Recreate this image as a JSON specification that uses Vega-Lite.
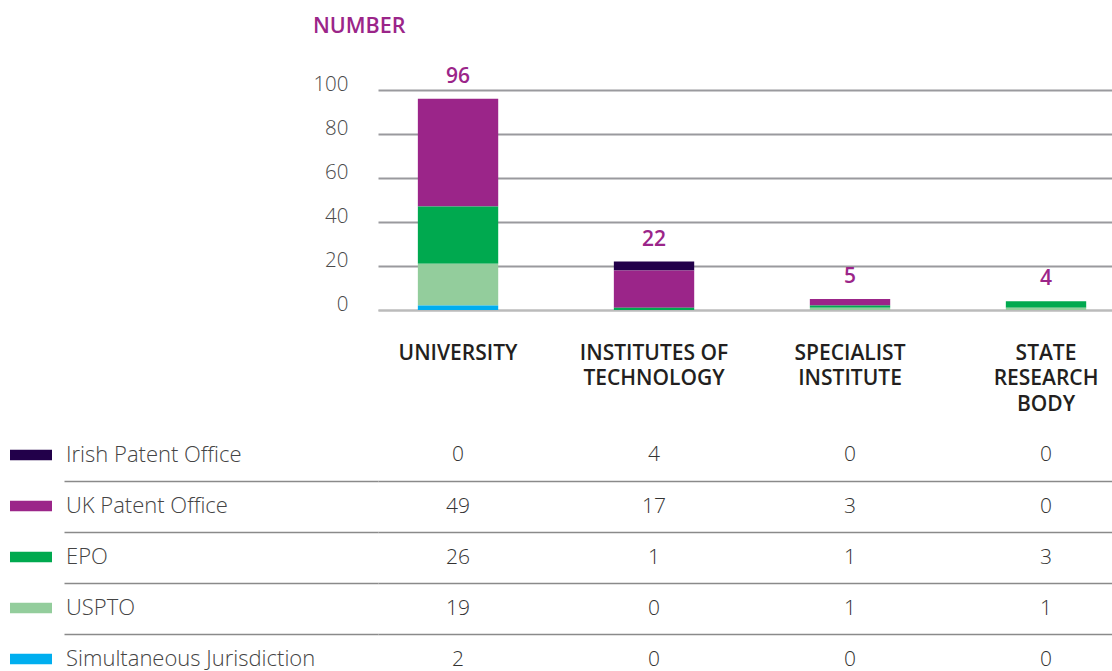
{
  "$schema": "https://vega.github.io/schema/vega-lite/v6.json",
  "padding": {"left": 0, "top": 16, "right": 0, "bottom": 0},
  "background": "white",
  "config": {"view": {"stroke": null}, "font": "Open Sans"},
  "datasets": {
    "patents": [
      {"inst": "UNIVERSITY", "office": "Irish Patent Office", "count": 0},
      {"inst": "UNIVERSITY", "office": "UK Patent Office", "count": 49},
      {"inst": "UNIVERSITY", "office": "EPO", "count": 26},
      {"inst": "UNIVERSITY", "office": "USPTO", "count": 19},
      {"inst": "UNIVERSITY", "office": "Simultaneous Jurisdiction", "count": 2},
      {"inst": "INSTITUTES OF TECHNOLOGY", "office": "Irish Patent Office", "count": 4},
      {"inst": "INSTITUTES OF TECHNOLOGY", "office": "UK Patent Office", "count": 17},
      {"inst": "INSTITUTES OF TECHNOLOGY", "office": "EPO", "count": 1},
      {"inst": "INSTITUTES OF TECHNOLOGY", "office": "USPTO", "count": 0},
      {"inst": "INSTITUTES OF TECHNOLOGY", "office": "Simultaneous Jurisdiction", "count": 0},
      {"inst": "SPECIALIST INSTITUTE", "office": "Irish Patent Office", "count": 0},
      {"inst": "SPECIALIST INSTITUTE", "office": "UK Patent Office", "count": 3},
      {"inst": "SPECIALIST INSTITUTE", "office": "EPO", "count": 1},
      {"inst": "SPECIALIST INSTITUTE", "office": "USPTO", "count": 1},
      {"inst": "SPECIALIST INSTITUTE", "office": "Simultaneous Jurisdiction", "count": 0},
      {"inst": "STATE RESEARCH BODY", "office": "Irish Patent Office", "count": 0},
      {"inst": "STATE RESEARCH BODY", "office": "UK Patent Office", "count": 0},
      {"inst": "STATE RESEARCH BODY", "office": "EPO", "count": 3},
      {"inst": "STATE RESEARCH BODY", "office": "USPTO", "count": 1},
      {"inst": "STATE RESEARCH BODY", "office": "Simultaneous Jurisdiction", "count": 0}
    ]
  },
  "data": {"name": "patents"},
  "spacing": 16,
  "resolve": {"scale": {"y": "independent", "x": "independent"}},
  "vconcat": [
    {
      "width": 734,
      "height": 220,
      "title": {"text": "NUMBER", "anchor": "start", "frame": "group", "dx": -65, "offset": 28, "color": "#9b2589", "fontSize": 21.5, "font": "Open Sans", "fontWeight": 600},
      "layer": [
        {
          "transform": [{"calculate": "indexof(['Simultaneous Jurisdiction','USPTO','EPO','UK Patent Office','Irish Patent Office'], datum.office)", "as": "stackOrder"}],
          "mark": {"type": "bar"},
          "encoding": {
            "x": {"field": "inst", "type": "nominal", "sort": ["UNIVERSITY", "INSTITUTES OF TECHNOLOGY", "SPECIALIST INSTITUTE", "STATE RESEARCH BODY"],
              "scale": {"type": "band", "paddingInner": 0.59, "paddingOuter": 0.1675, "align": 0.607},
              "axis": {"title": null, "labelAngle": 0, "ticks": false, "domain": true, "domainColor": "#bbbbbb", "domainWidth": 2,
                "labelPadding": 32, "labelFontSize": 21, "labelFontWeight": 600, "labelColor": "#231f20", "labelLineHeight": 25.5, "labelBaseline": "top",
                "labelExpr": "datum.value == 'INSTITUTES OF TECHNOLOGY' ? ['INSTITUTES OF','TECHNOLOGY'] : datum.value == 'SPECIALIST INSTITUTE' ? ['SPECIALIST','INSTITUTE'] : datum.value == 'STATE RESEARCH BODY' ? ['STATE','RESEARCH','BODY'] : datum.value"}},
            "y": {"aggregate": "sum", "field": "count", "type": "quantitative", "stack": "zero",
              "scale": {"domain": [0, 100], "nice": false},
              "axis": {"title": null, "values": [0, 20, 40, 60, 80, 100], "domain": false, "ticks": false, "labelPadding": 30,
                "labelFontSize": 20.5, "labelFontWeight": 300, "labelColor": "#4a4a4a", "labelBaseline": "alphabetic",
                "grid": true, "gridWidth": 2, "gridColor": {"condition": {"test": "datum.value === 0", "value": "#bbbbbb"}, "value": "#9a9a9e"},
                "minExtent": 378, "maxExtent": 378}},
            "color": {"field": "office", "type": "nominal",
              "scale": {"domain": ["Irish Patent Office", "UK Patent Office", "EPO", "USPTO", "Simultaneous Jurisdiction"],
                "range": ["#22004a", "#9b2589", "#00a94f", "#93cd9c", "#00aeef"]},
              "legend": {"title": null, "orient": "none", "legendX": -368, "legendY": 344, "padding": 0,
                "symbolType": "M-1,-0.25H1V0.25H-1Z", "symbolSize": 1764, "symbolStrokeWidth": 0, "symbolOpacity": 1,
                "labelFontSize": 22, "labelFont": "Open Sans", "labelFontWeight": 300, "labelColor": "#444444", "labelOffset": 14,
                "rowPadding": 19, "labelLimit": 400}},
            "order": {"field": "stackOrder", "type": "quantitative"}
          }
        },
        {
          "mark": {"type": "text", "dy": -22, "baseline": "middle", "fontSize": 21, "fontWeight": 600, "color": "#9b2589", "font": "Open Sans"},
          "encoding": {
            "x": {"field": "inst", "type": "nominal", "sort": ["UNIVERSITY", "INSTITUTES OF TECHNOLOGY", "SPECIALIST INSTITUTE", "STATE RESEARCH BODY"]},
            "y": {"aggregate": "sum", "field": "count", "type": "quantitative"},
            "text": {"aggregate": "sum", "field": "count", "type": "quantitative"}
          }
        }
      ]
    },
    {
      "width": 734,
      "height": 243,
      "mark": {"type": "text", "fontSize": 21, "fontWeight": 300, "color": "#333333", "font": "Open Sans", "baseline": "middle"},
      "encoding": {
        "x": {"field": "inst", "type": "nominal", "sort": ["UNIVERSITY", "INSTITUTES OF TECHNOLOGY", "SPECIALIST INSTITUTE", "STATE RESEARCH BODY"],
          "scale": {"type": "band", "paddingInner": 0.59, "paddingOuter": 0.1675, "align": 0.607}, "axis": null},
        "y": {"field": "office", "type": "nominal", "sort": ["Irish Patent Office", "UK Patent Office", "EPO", "USPTO", "Simultaneous Jurisdiction"],
          "scale": {"type": "point", "padding": 0.377, "align": 0.66},
          "axis": {"title": null, "values": ["Irish Patent Office", "UK Patent Office", "EPO", "USPTO"], "labels": false, "domain": false,
            "ticks": true, "tickSize": 314, "tickColor": "#8a8a8a", "tickWidth": 1.5, "tickOffset": 25.5,
            "grid": true, "gridColor": "#8a8a8a", "gridWidth": 1.5, "minExtent": 378, "maxExtent": 378}},
        "text": {"field": "count", "type": "quantitative"}
      }
    }
  ]
}
